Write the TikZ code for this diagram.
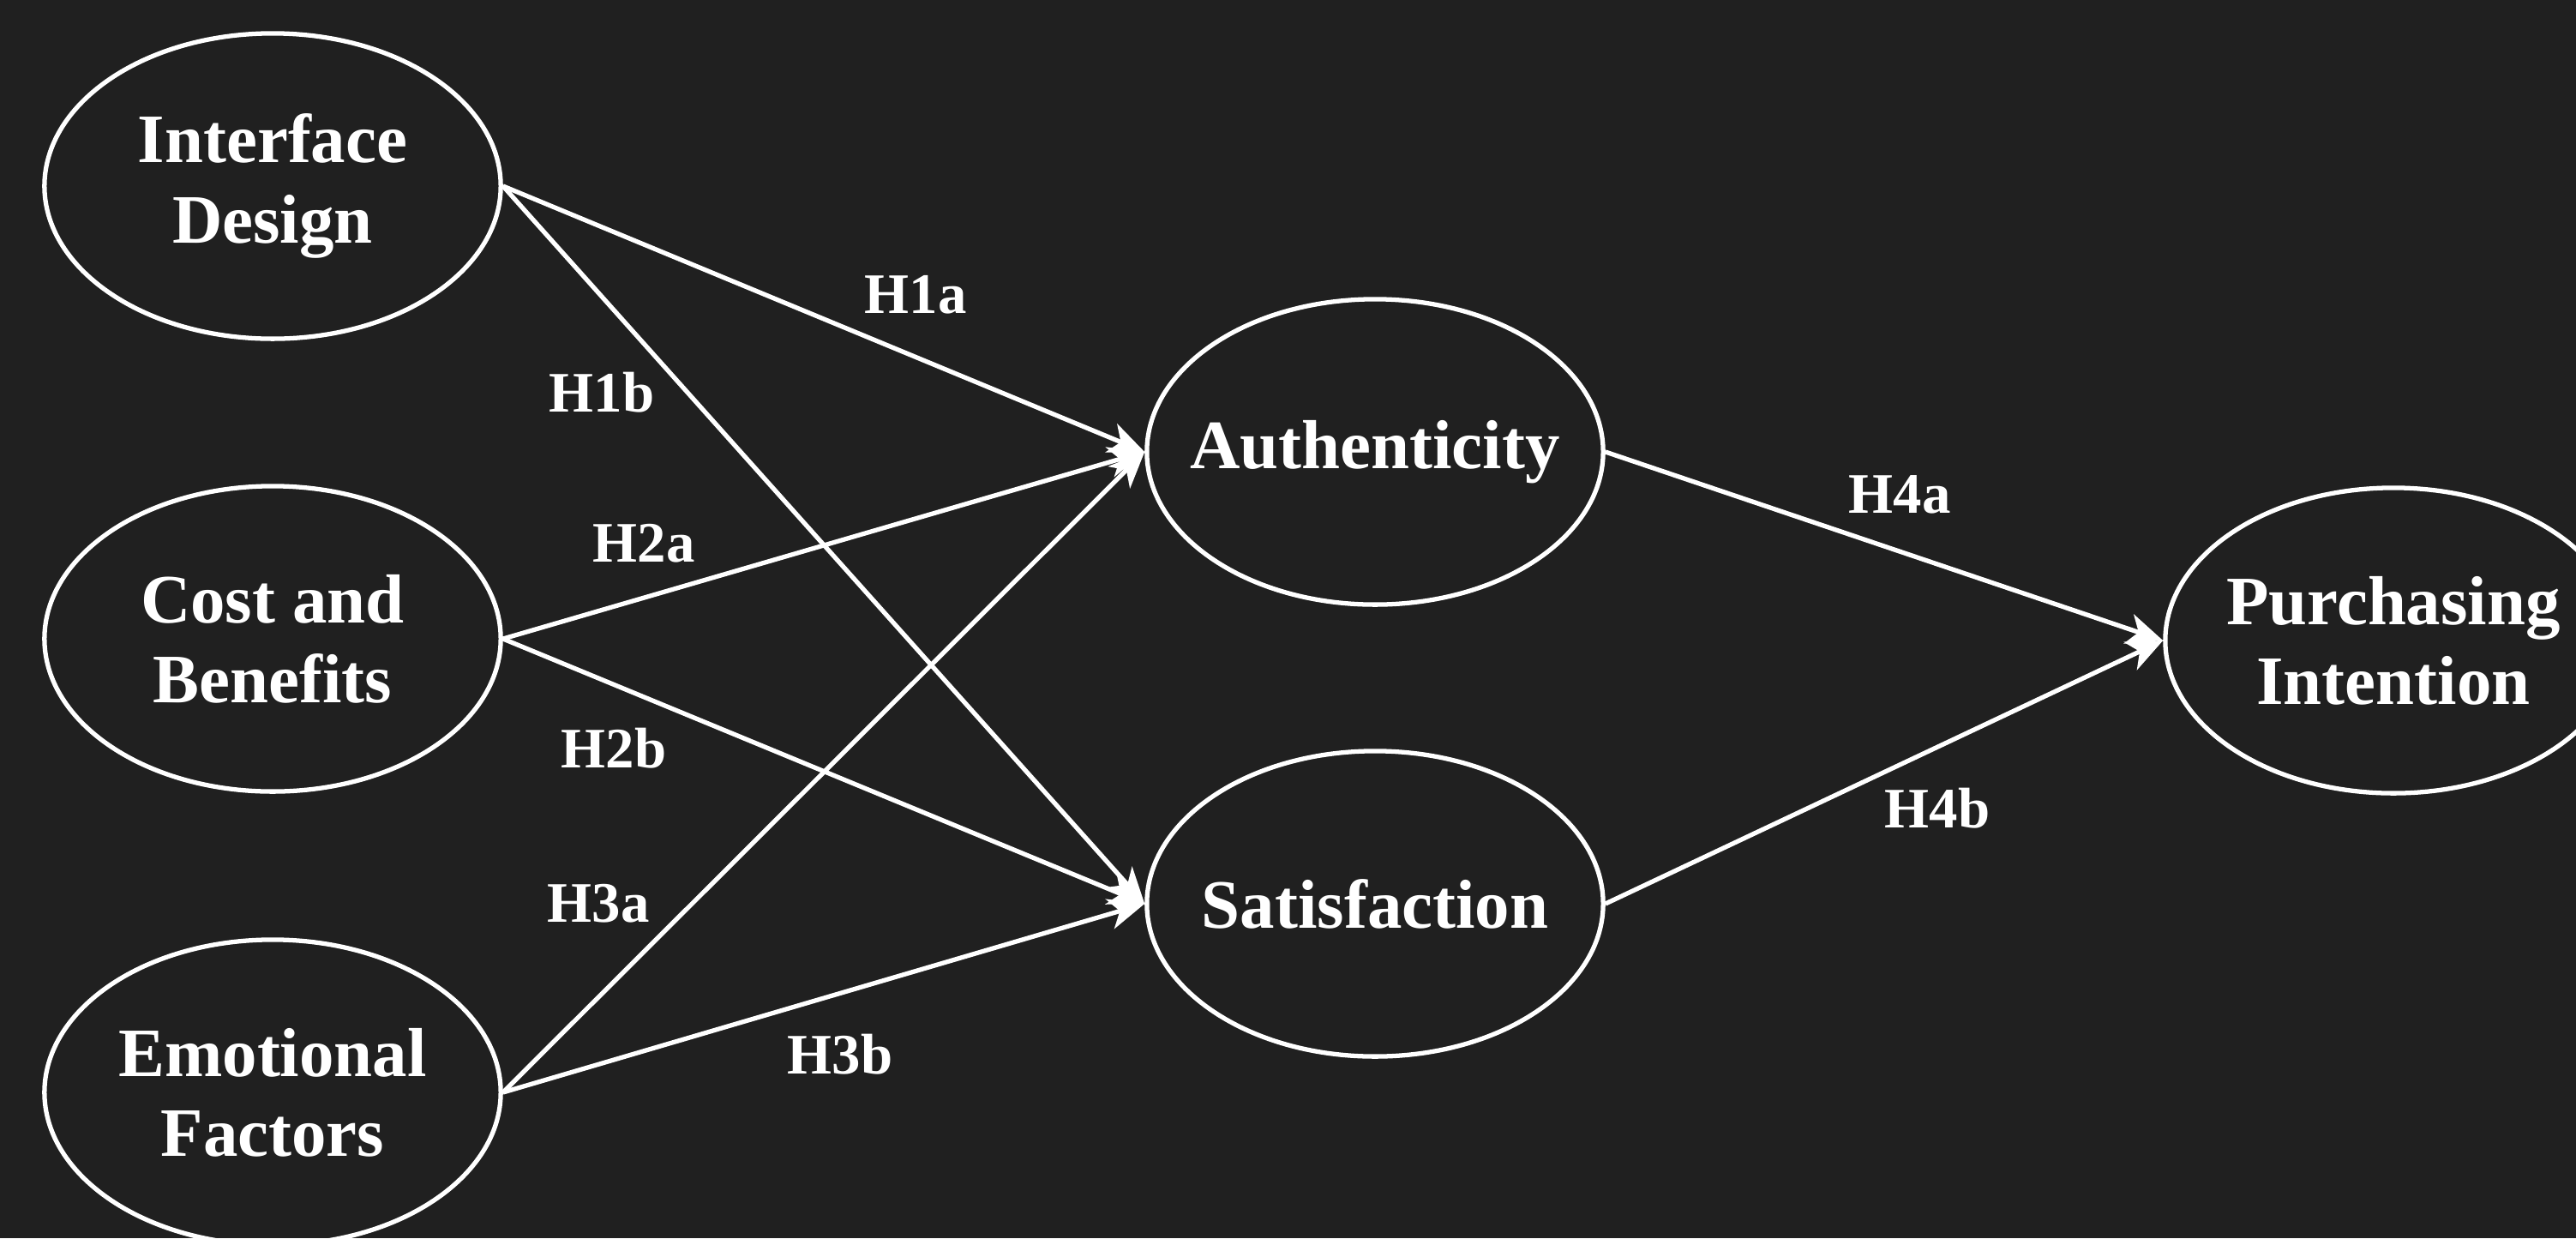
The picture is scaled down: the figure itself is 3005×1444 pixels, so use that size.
\documentclass[tikz,border=0pt]{standalone}
\usepackage{fontspec}
\setmainfont{Liberation Serif}
\usetikzlibrary{arrows.meta}
\usetikzlibrary{shapes.geometric}
\definecolor{charcoal}{RGB}{32, 32, 32}
\definecolor{chalk}{RGB}{255, 255, 255}

\begin{document}
\begin{tikzpicture}[x=0.01cm, y=-0.01cm,
        construct/.style={ellipse, draw=chalk, line width=1.5pt, minimum width=5.32cm, minimum height=3.56cm, inner sep=0pt},
        constructtext/.style={text=chalk, font=\bfseries\fontsize{23}{26.5}\selectfont, align=center},
        hypo/.style={draw=chalk, line width=1.5pt, -{Stealth[length=0.42cm, width=0.36cm, inset=0.12cm]}},
        hyplabel/.style={text=chalk, font=\bfseries\fontsize{19}{22}\selectfont, anchor=base, inner sep=0pt}]
            \path[use as bounding box, fill=charcoal]      (0, 0) rectangle (3005, 1444);
            \node[construct, label={[constructtext]center:Interface\\Design}]     (ID) at ( 318,  217) {};
            \node[construct, label={[constructtext]center:Cost and\\Benefits}]    (CB) at ( 318,  745) {};
            \node[construct, label={[constructtext]center:Emotional\\Factors}]    (EF) at ( 318, 1274) {};
            \node[construct, label={[constructtext]center:Authenticity}]          (AU) at (1604,  527) {};
            \node[construct, label={[constructtext]center:Satisfaction}]          (SA) at (1604, 1054) {};
            \node[construct, label={[constructtext]center:Purchasing\\Intention}] (PI) at (2792,  747) {};
            \draw[hypo] (ID.east) -- (AU.west);
            \draw[hypo] (ID.east) -- (SA.west);
            \draw[hypo] (CB.east) -- (AU.west);
            \draw[hypo] (CB.east) -- (SA.west);
            \draw[hypo] (EF.east) -- (AU.west);
            \draw[hypo] (EF.east) -- (SA.west);
            \draw[hypo] (AU.east) -- (PI.west);
            \draw[hypo] (SA.east) -- (PI.west);
            \node[hyplabel] (H1a) at (1068,  365) {H1a};
            \node[hyplabel] (H1b) at ( 702,  480) {H1b};
            \node[hyplabel] (H2a) at ( 751,  655) {H2a};
            \node[hyplabel] (H2b) at ( 716,  895) {H2b};
            \node[hyplabel] (H3a) at ( 698, 1075) {H3a};
            \node[hyplabel] (H3b) at ( 980, 1252) {H3b};
            \node[hyplabel] (H4a) at (2216,  598) {H4a};
            \node[hyplabel] (H4b) at (2260,  965) {H4b};
\end{tikzpicture}
\end{document}
